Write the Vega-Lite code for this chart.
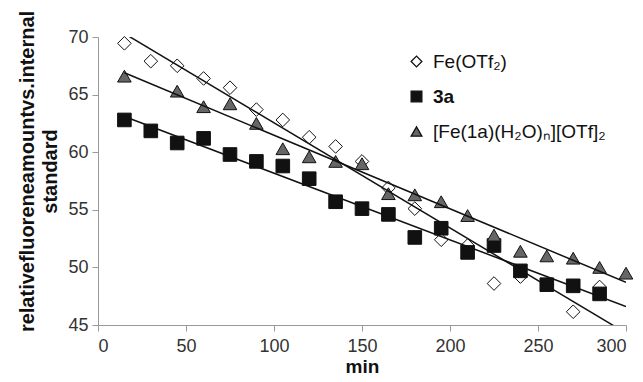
{
  "$schema": "https://vega.github.io/schema/vega-lite/v6.json",
  "autosize": "none",
  "width": 528,
  "height": 288,
  "padding": {"left": 98, "top": 37, "right": 17, "bottom": 57},
  "background": "white",
  "config": {"view": {"stroke": null}, "font": "Liberation Sans"},
  "datasets": {
    "points": [
      {"s": "Fe(OTf₂)", "t": 15, "v": 69.45},
      {"s": "Fe(OTf₂)", "t": 30, "v": 67.9},
      {"s": "Fe(OTf₂)", "t": 45, "v": 67.5},
      {"s": "Fe(OTf₂)", "t": 60, "v": 66.4},
      {"s": "Fe(OTf₂)", "t": 75, "v": 65.6},
      {"s": "Fe(OTf₂)", "t": 90, "v": 63.7},
      {"s": "Fe(OTf₂)", "t": 105, "v": 62.8},
      {"s": "Fe(OTf₂)", "t": 120, "v": 61.3},
      {"s": "Fe(OTf₂)", "t": 135, "v": 60.5},
      {"s": "Fe(OTf₂)", "t": 150, "v": 59.2},
      {"s": "Fe(OTf₂)", "t": 165, "v": 56.9},
      {"s": "Fe(OTf₂)", "t": 180, "v": 55.1},
      {"s": "Fe(OTf₂)", "t": 195, "v": 52.4},
      {"s": "Fe(OTf₂)", "t": 210, "v": 51.9},
      {"s": "Fe(OTf₂)", "t": 225, "v": 48.6},
      {"s": "Fe(OTf₂)", "t": 240, "v": 49.2},
      {"s": "Fe(OTf₂)", "t": 255, "v": 48.5},
      {"s": "Fe(OTf₂)", "t": 270, "v": 46.15},
      {"s": "Fe(OTf₂)", "t": 285, "v": 48.3},
      {"s": "3a", "t": 15, "v": 62.8},
      {"s": "3a", "t": 30, "v": 61.85},
      {"s": "3a", "t": 45, "v": 60.8},
      {"s": "3a", "t": 60, "v": 61.2},
      {"s": "3a", "t": 75, "v": 59.8},
      {"s": "3a", "t": 90, "v": 59.2},
      {"s": "3a", "t": 105, "v": 58.8},
      {"s": "3a", "t": 120, "v": 57.7},
      {"s": "3a", "t": 135, "v": 55.7},
      {"s": "3a", "t": 150, "v": 55.1},
      {"s": "3a", "t": 165, "v": 54.6},
      {"s": "3a", "t": 180, "v": 52.6},
      {"s": "3a", "t": 195, "v": 53.4},
      {"s": "3a", "t": 210, "v": 51.3},
      {"s": "3a", "t": 225, "v": 51.9},
      {"s": "3a", "t": 240, "v": 49.7},
      {"s": "3a", "t": 255, "v": 48.5},
      {"s": "3a", "t": 270, "v": 48.4},
      {"s": "3a", "t": 285, "v": 47.7},
      {"s": "[Fe(1a)(H₂O)ₙ][OTf]₂", "t": 15, "v": 66.6},
      {"s": "[Fe(1a)(H₂O)ₙ][OTf]₂", "t": 45, "v": 65.3},
      {"s": "[Fe(1a)(H₂O)ₙ][OTf]₂", "t": 60, "v": 63.95},
      {"s": "[Fe(1a)(H₂O)ₙ][OTf]₂", "t": 75, "v": 64.2},
      {"s": "[Fe(1a)(H₂O)ₙ][OTf]₂", "t": 90, "v": 62.5},
      {"s": "[Fe(1a)(H₂O)ₙ][OTf]₂", "t": 105, "v": 60.3},
      {"s": "[Fe(1a)(H₂O)ₙ][OTf]₂", "t": 120, "v": 59.6},
      {"s": "[Fe(1a)(H₂O)ₙ][OTf]₂", "t": 135, "v": 59.2},
      {"s": "[Fe(1a)(H₂O)ₙ][OTf]₂", "t": 150, "v": 59.0},
      {"s": "[Fe(1a)(H₂O)ₙ][OTf]₂", "t": 165, "v": 56.4},
      {"s": "[Fe(1a)(H₂O)ₙ][OTf]₂", "t": 180, "v": 56.3},
      {"s": "[Fe(1a)(H₂O)ₙ][OTf]₂", "t": 195, "v": 55.7},
      {"s": "[Fe(1a)(H₂O)ₙ][OTf]₂", "t": 210, "v": 54.5},
      {"s": "[Fe(1a)(H₂O)ₙ][OTf]₂", "t": 225, "v": 52.8},
      {"s": "[Fe(1a)(H₂O)ₙ][OTf]₂", "t": 240, "v": 51.4},
      {"s": "[Fe(1a)(H₂O)ₙ][OTf]₂", "t": 255, "v": 51.0},
      {"s": "[Fe(1a)(H₂O)ₙ][OTf]₂", "t": 270, "v": 50.8},
      {"s": "[Fe(1a)(H₂O)ₙ][OTf]₂", "t": 285, "v": 50.0},
      {"s": "[Fe(1a)(H₂O)ₙ][OTf]₂", "t": 300, "v": 49.5}
    ],
    "fits": [
      {"s": "Fe(OTf₂)", "t": 15, "v": 70.3},
      {"s": "Fe(OTf₂)", "t": 300, "v": 44.3},
      {"s": "3a", "t": 15, "v": 63.1},
      {"s": "3a", "t": 300, "v": 46.6},
      {"s": "[Fe(1a)(H₂O)ₙ][OTf]₂", "t": 15, "v": 66.9},
      {"s": "[Fe(1a)(H₂O)ₙ][OTf]₂", "t": 300, "v": 48.7}
    ]
  },
  "encoding": {
    "x": {
      "field": "t", "type": "quantitative",
      "scale": {"domain": [0, 300], "nice": false},
      "axis": {
        "title": "min", "values": [0, 50, 100, 150, 200, 250, 300],
        "grid": false, "domainColor": "#999", "tickColor": "#999", "tickSize": 6,
        "labelFontSize": 18, "labelColor": "#333", "labelPadding": 6,
        "titleFontSize": 19, "titleFontWeight": "bold", "titleColor": "#111", "titlePadding": 2
      }
    },
    "y": {
      "field": "v", "type": "quantitative",
      "scale": {"domain": [45, 70], "nice": false, "zero": false},
      "axis": {
        "title": ["relativefluoreneamountvs.internal", "standard"],
        "values": [45, 50, 55, 60, 65, 70],
        "grid": false, "domainColor": "#999", "tickColor": "#999", "tickSize": 6,
        "labelFontSize": 18, "labelColor": "#333", "labelPadding": 4,
        "titleFontSize": 20, "titleFontWeight": "bold", "titleColor": "#111",
        "titlePadding": 7, "titleLineHeight": 23, "titleY": 134
      }
    }
  },
  "layer": [
    {
      "data": {"name": "points"},
      "mark": {"type": "point", "filled": true, "strokeWidth": 1, "opacity": 1, "size": 185},
      "encoding": {
        "shape": {
          "field": "s", "type": "nominal",
          "scale": {"domain": ["Fe(OTf₂)", "3a", "[Fe(1a)(H₂O)ₙ][OTf]₂"], "range": ["diamond", "square", "triangle-up"]},
          "legend": {
            "title": null, "orient": "none", "legendX": 309, "legendY": 15, "padding": 0,
            "labelFontSize": 19, "labelColor": "#111", "symbolSize": 115, "labelLimit": 400,
            "rowPadding": 15, "labelOffset": 7, "symbolStrokeWidth": 1.3,
            "labelFontWeight": {"expr": "datum.label == '3a' ? 'bold' : 'normal'"}
          }
        },
        "fill": {
          "field": "s", "type": "nominal",
          "scale": {"domain": ["Fe(OTf₂)", "3a", "[Fe(1a)(H₂O)ₙ][OTf]₂"], "range": ["#ffffff", "#111111", "#666666"]}
        },
        "stroke": {
          "field": "s", "type": "nominal",
          "scale": {"domain": ["Fe(OTf₂)", "3a", "[Fe(1a)(H₂O)ₙ][OTf]₂"], "range": ["#111111", "#111111", "#111111"]}
        }
      }
    },
    {
      "data": {"name": "fits"},
      "mark": {"type": "line", "color": "#111", "strokeWidth": 1.5, "clip": true},
      "encoding": {"detail": {"field": "s", "type": "nominal"}}
    }
  ]
}
